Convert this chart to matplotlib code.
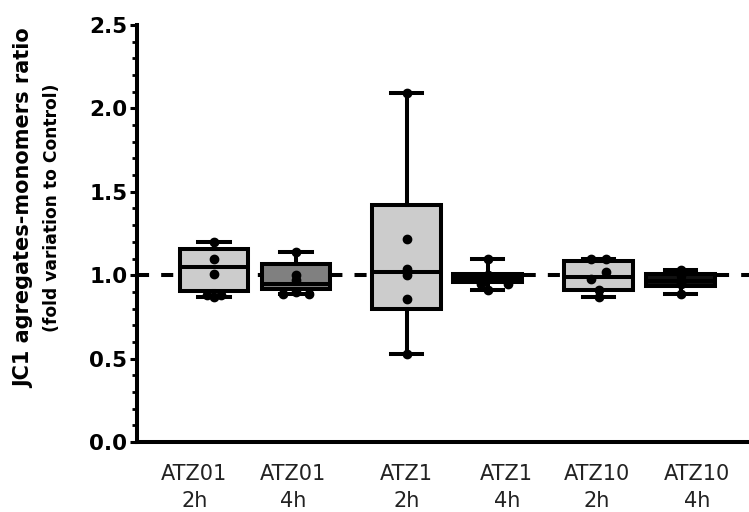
import numpy as np
import matplotlib.pyplot as plt
from matplotlib.ticker import MultipleLocator

# groups and their summary stats (min-max whiskers)
groups = ['ATZ01\n2h', 'ATZ01\n4h', 'ATZ1\n2h', 'ATZ1\n4h', 'ATZ10\n2h', 'ATZ10\n4h']
q1 = [0.907, 0.917, 0.795, 0.960, 0.910, 0.935]
med = [1.050, 0.950, 1.020, 0.985, 0.990, 0.965]
q3 = [1.157, 1.070, 1.420, 1.008, 1.085, 1.008]
lo = [0.870, 0.890, 0.530, 0.910, 0.870, 0.885]
hi = [1.200, 1.140, 2.090, 1.095, 1.100, 1.030]

# individual replicates per group
points = [
    [1.20, 1.10, 1.01, 0.88, 0.87, 0.88],
    [1.14, 1.00, 0.97, 0.90, 0.89, 0.89],
    [2.09, 1.215, 1.04, 1.00, 0.86, 0.53],
    [1.095, 1.00, 0.98, 0.95, 0.95, 0.91],
    [1.10, 1.10, 1.02, 0.98, 0.91, 0.87],
    [1.03, 1.00, 0.97, 0.96, 0.95, 0.885],
]
# horizontal spread so overlapping dots stay visible
spread = [
    [0, 0, 0, -0.09, 0, 0.09],
    [0, 0, 0, 0, -0.16, 0.16],
    [0, 0, 0, 0, 0, 0],
    [0, 0, 0, -0.08, 0.24, 0],
    [-0.09, 0.09, 0.09, -0.09, 0, 0],
    [0, 0, 0, 0, 0, 0],
]

fills = ['#cccccc', '#808080', '#cccccc', '#111111', '#cccccc', '#111111']
pos = [1, 2, 3.35, 4.34, 5.69, 6.69]
label_pos = [0.76, 1.96, 3.35, 4.57, 5.67, 6.89]

fig = plt.figure(figsize=(7.49, 5.12), dpi=100)
ax = fig.add_axes([0.1829, 0.1367, 0.8171, 0.8145])

lw = 2.9
ax.axhline(1.0, color='black', lw=lw, dashes=(3, 3), zorder=1)

stats = []
for i in range(len(groups)):
    stats.append(dict(med=med[i], q1=q1[i], q3=q3[i], whislo=lo[i], whishi=hi[i], fliers=[]))

bp = ax.bxp(stats, positions=pos, widths=0.84, capwidths=0.38, patch_artist=True,
            showfliers=False,
            boxprops=dict(linewidth=lw, edgecolor='black'),
            medianprops=dict(linewidth=lw, color='black'),
            whiskerprops=dict(linewidth=lw, color='black'),
            capprops=dict(linewidth=lw, color='black'), zorder=2)
for patch, c in zip(bp['boxes'], fills):
    patch.set_facecolor(c)

for i in range(len(groups)):
    xs = pos[i] + np.array(spread[i])
    ax.plot(xs, points[i], 'o', color='black', ms=6, zorder=3, clip_on=False)

ax.set_xlim(0.061, 7.524)
ax.set_ylim(0, 2.5)
ax.yaxis.set_major_locator(MultipleLocator(0.5))
ax.yaxis.set_minor_locator(MultipleLocator(0.1))
ax.yaxis.set_major_formatter(plt.FormatStrFormatter('%.1f'))
ax.set_xticks(label_pos)
ax.set_xticklabels(groups, fontsize=15, color='#222222', linespacing=1.45)
ax.tick_params(axis='x', length=0, pad=16)
ax.tick_params(axis='y', which='major', length=5, width=2.2, labelsize=15.5, pad=2)
ax.tick_params(axis='y', which='minor', length=3.5, width=2)
for lab in ax.get_yticklabels():
    lab.set_fontweight('bold')

for side in ['top', 'right']:
    ax.spines[side].set_visible(False)
ax.spines['left'].set_linewidth(lw)
ax.spines['bottom'].set_linewidth(lw)

fig.text(0.032, 0.594, 'JC1 agregates-monomers ratio', rotation=90, ha='center', va='center',
         fontsize=15, fontweight='bold')
fig.text(0.070, 0.594, '(fold variation to Control)', rotation=90, ha='center', va='center',
         fontsize=12.3, fontweight='bold')

fig.savefig('out.png', dpi=100)
